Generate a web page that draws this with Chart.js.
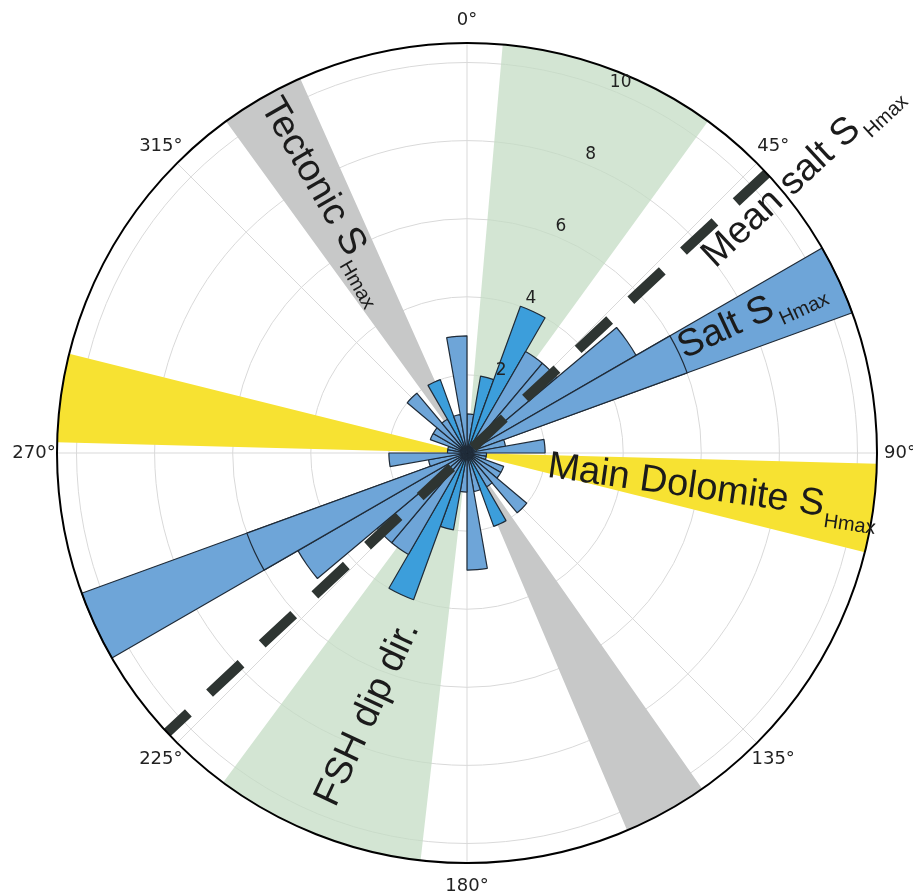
<!DOCTYPE html>
<html>
<head>
<meta charset="utf-8">
<script src="https://cdn.jsdelivr.net/npm/chart.js@4/dist/chart.umd.min.js"></script>
<style>
    html, body { margin: 0; padding: 0; background: #ffffff; }
    #wrap { width: 913px; height: 895px; }
</style>
</head>
<body>
<div id="wrap"><canvas id="rose"></canvas></div>
<script>
// counts per 10 degree bin, clockwise from north (0-10, 10-20, ...)
const binValues = [
    1, 2, 4, 3, 3, 5, 6, 1, 2,
    0.5, 0.5, 1, 1, 2, 1, 2, 1, 3,
    1, 2, 4, 3, 3, 5, 6, 1, 2,
    0.5, 0.5, 1, 1, 2, 1, 2, 1, 3
];

// shaded direction sectors (azimuth in degrees)
const sectorKind = ["green", "salt", "yellow", "gray", "green", "salt", "yellow", "gray"];
const sectorFrom = [5, 60, 91.5, 145, 186.5, 240, 271.5, 324];
const sectorTo = [36, 70, 104, 157, 216.5, 250, 284, 336];

const meanSaltAzimuth = 47;

const rTicks = [0, 2, 4, 6, 8, 10];
const rMax = 10.5;
const thetaLabels = ["0°", "45°", "90°", "135°", "180°", "225°", "270°", "315°"];

// styles
const lightBlue = "#6ea5d8";
const brightBlue = "#3c9edb";
const brightBins = [1, 2, 15, 19, 20, 33];
const edge = "#1f2b38";
const fills = {
    green: "rgba(196, 220, 196, 0.75)",
    gray: "#c7c8c8",
    yellow: "#f7e232",
    salt: lightBlue
};

function rad(deg) {
    return deg * Math.PI / 180;
}

// sectors -> arcs with their own angle, gaps in between
const spans = [];
const sectorVals = [];
const kinds = [];
let at = 0;
sectorFrom.forEach(function (from, i) {
    if (from > at) {
        spans.push(from - at);
        sectorVals.push(0);
        kinds.push(null);
    }
    spans.push(sectorTo[i] - from);
    sectorVals.push(rMax);
    kinds.push(sectorKind[i]);
    at = sectorTo[i];
});
if (at < 360) {
    spans.push(360 - at);
    sectorVals.push(0);
    kinds.push(null);
}

function label(ctx, scale, az, dist, rot, main, sub) {
    const p = scale.getPointPosition(0, dist, rad(az));
    ctx.save();
    ctx.translate(p.x, p.y);
    ctx.rotate(rad(rot));
    ctx.fillStyle = "#1b1b1b";
    ctx.textAlign = "left";
    ctx.textBaseline = "alphabetic";
    ctx.font = "38px 'Liberation Sans', Arial, sans-serif";
    ctx.fillText(main, 0, 13);
    if (sub) {
        const w = ctx.measureText(main).width;
        ctx.font = "20px 'Liberation Sans', Arial, sans-serif";
        ctx.fillText(sub, w + 2, 24);
    }
    ctx.restore();
}

const roseExtras = {
    id: "roseExtras",

    afterDatasetsDraw(chart) {
        const ctx = chart.ctx;
        const r = chart.scales.r;
        const R = r.drawingArea;

        // mean salt SHmax: one dashed line through the centre
        const a = r.getPointPosition(0, R, rad(meanSaltAzimuth));
        const b = r.getPointPosition(0, R, rad(meanSaltAzimuth + 180));
        ctx.save();
        ctx.strokeStyle = "#2e3532";
        ctx.lineWidth = 10;
        ctx.lineCap = "butt";
        ctx.setLineDash([43, 29]);
        ctx.lineDashOffset = 14;
        ctx.beginPath();
        ctx.moveTo(b.x, b.y);
        ctx.lineTo(a.x, a.y);
        ctx.stroke();

        // outer spine
        ctx.setLineDash([]);
        ctx.lineWidth = 2;
        ctx.strokeStyle = "#000000";
        ctx.beginPath();
        ctx.arc(r.xCenter, r.yCenter, R, 0, 2 * Math.PI);
        ctx.stroke();
        ctx.restore();
    },

    afterDraw(chart) {
        const ctx = chart.ctx;
        const r = chart.scales.r;
        const R = r.drawingArea;

        ctx.save();
        ctx.fillStyle = "#222222";
        ctx.textAlign = "center";
        ctx.textBaseline = "middle";

        // radial tick labels along 22.5 degrees
        ctx.font = "17px 'DejaVu Sans', sans-serif";
        rTicks.forEach(function (v) {
            if (v === 0) return;
            const d = r.getDistanceFromCenterForValue(v) + 11;
            const p = r.getPointPosition(0, d, rad(22.5));
            ctx.fillText(String(v), p.x, p.y);
        });

        // angular labels
        ctx.font = "18px 'DejaVu Sans', sans-serif";
        chart.data.labels.forEach(function (t, i) {
            const p = r.getPointPosition(i, R + 23);
            ctx.fillText(t, p.x, p.y);
        });
        ctx.restore();

        label(ctx, r, 331, 404, 60, "Tectonic S", "Hmax");
        label(ctx, r, 202.3, 378, -65, "FSH dip dir.");
        label(ctx, r, 51, 308, -43, "Mean salt S", "Hmax");
        label(ctx, r, 63.5, 237, -25, "Salt S", "Hmax");
        label(ctx, r, 97.7, 82, 8, "Main Dolomite S", "Hmax");
    }
};

window.onload = function () {

    const ctx = document.getElementById("rose");

    new Chart(ctx, {

        type: "polarArea",

        data: {

            labels: thetaLabels,

            datasets: [

                {
                    label: "Bins",
                    data: binValues,
                    angle: 10,
                    backgroundColor: function (c) {
                        return brightBins.includes(c.dataIndex) ? brightBlue : lightBlue;
                    },
                    borderColor: edge,
                    borderWidth: 1.2
                },

                {
                    label: "Sectors",
                    data: sectorVals,
                    angle: function (c) {
                        return spans[c.dataIndex];
                    },
                    backgroundColor: function (c) {
                        return fills[kinds[c.dataIndex]] || "rgba(0,0,0,0)";
                    },
                    borderColor: edge,
                    borderWidth: function (c) {
                        return kinds[c.dataIndex] === "salt" ? 1.2 : 0;
                    }
                }

            ]
        },

        options: {

            responsive: true,
            maintainAspectRatio: false,
            animation: false,
            events: [],

            layout: {
                padding: { left: 57, right: 36, top: 43, bottom: 32 }
            },

            plugins: {
                legend: { display: false },
                tooltip: { enabled: false }
            },

            scales: {
                r: {
                    min: 0,
                    max: rMax,
                    startAngle: 0,
                    afterBuildTicks: function (axis) {
                        axis.ticks = rTicks.map(function (v) { return { value: v }; });
                    },
                    ticks: { display: false },
                    grid: { color: "#d9d9d9", lineWidth: 1 },
                    angleLines: { display: true, color: "#d9d9d9", lineWidth: 1 },
                    pointLabels: { display: false }
                }
            }
        },

        plugins: [roseExtras]
    });
};
</script>
</body>
</html>
